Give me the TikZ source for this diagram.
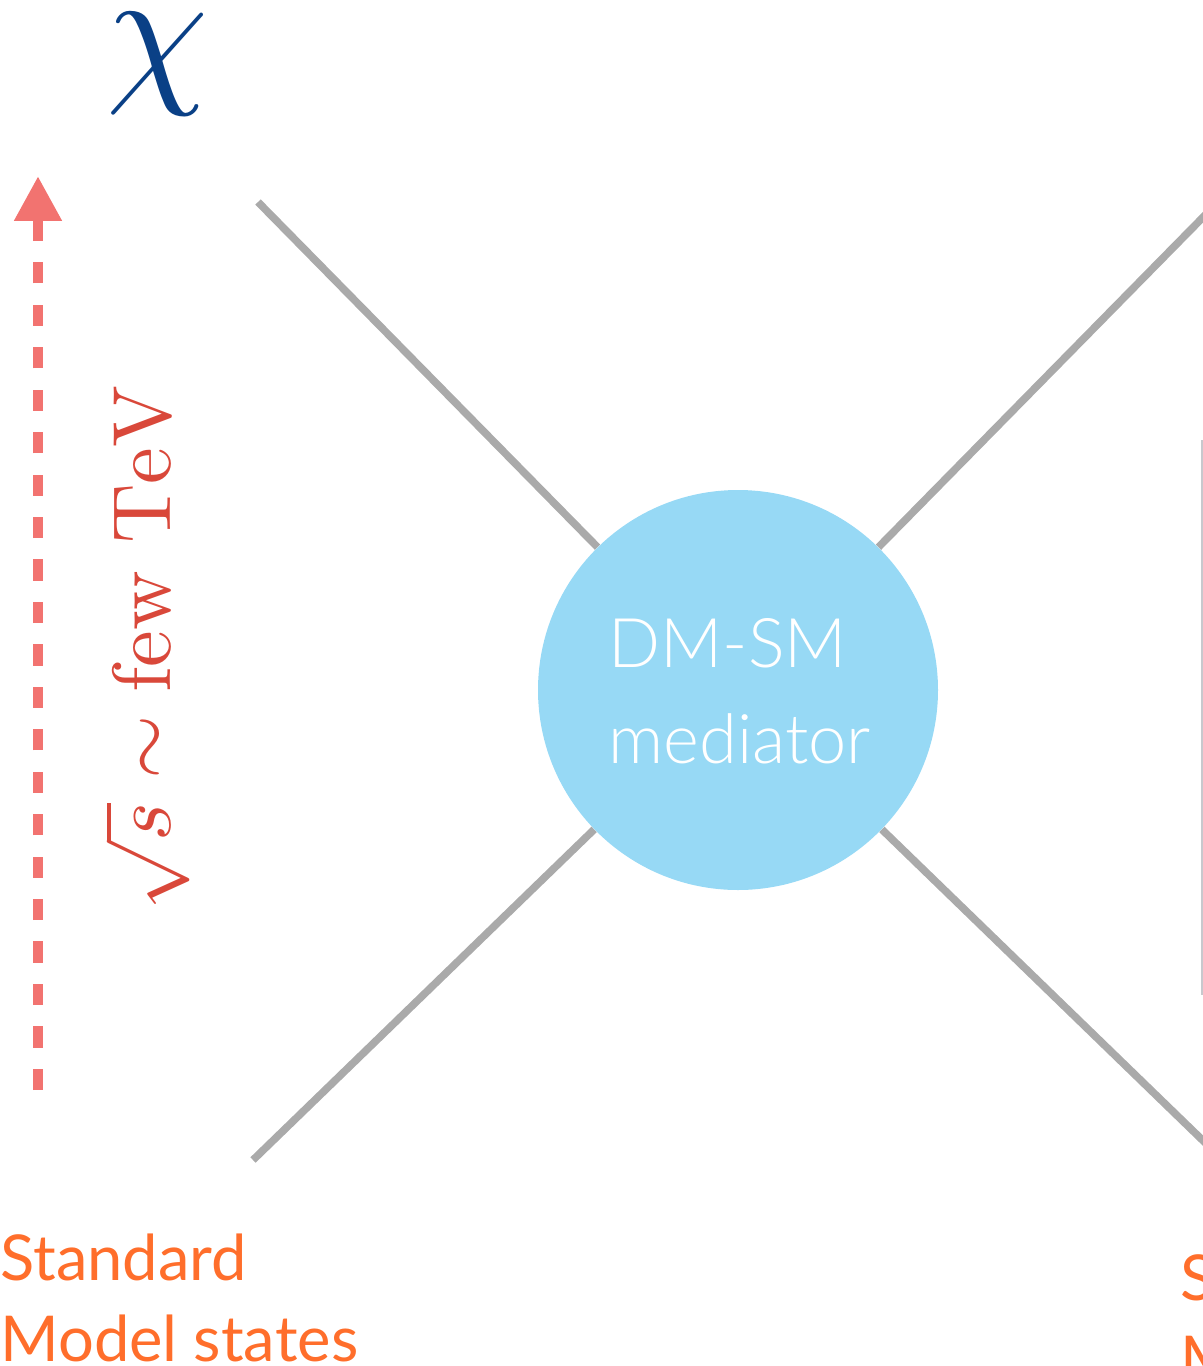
\documentclass[tikz,border=0pt]{standalone}
\usepackage{fontspec}
\newfontfamily\labelfont{Lato}
\newfontfamily\lightlabelfont{Lato Light}
\usetikzlibrary{arrows.meta}

\definecolor{legcol}{RGB}{170,170,170}
\definecolor{medcol}{RGB}{151,217,245}
\definecolor{chicol}{RGB}{10,64,134}
\definecolor{energycol}{RGB}{217,72,58}
\definecolor{arrowcol}{RGB}{242,115,112}
\definecolor{smcol}{RGB}{255,110,43}
\definecolor{edgecol}{RGB}{200,200,205}

\tikzset{
  leg/.style={draw=legcol, line width=4.3pt},
  mediatorball/.style={circle, fill=medcol, minimum size=400*0.02cm, inner sep=0pt},
  medtext/.style={text=white, inner sep=0pt, font=\lightlabelfont\fontsize{39}{46}\selectfont},
  smtext/.style={text=smcol, inner sep=0pt, font=\labelfont\fontsize{36}{44}\selectfont},
  energyarrow/.style={draw=arrowcol, line width=6.24pt, dash pattern=on 12.08pt off 12.08pt,
    -{Triangle[length=25.5pt,width=25.5pt]}},
}

\begin{document}
\begin{tikzpicture}[x=0.02cm, y=-0.02cm]
\useasboundingbox (0,0) rectangle (1203,1366);
\clip (0,0) rectangle (1203,1366);

% central mediator blob
\node[mediatorball] (med) at (738,690) {};

% external legs
\coordinate (ul) at (258,202);
\coordinate (ll) at (253,1160);
\coordinate (ur) at (1218,202);
\coordinate (lr) at (1223,1160);
\draw[leg] (ul) -- (med);
\draw[leg] (ll) -- (med);
\draw[leg] (ur) -- (med);
\draw[leg] (lr) -- (med);

% label inside the blob
\node[medtext, anchor=base west] (medA) at (608,667) {DM-SM};
\node[medtext, anchor=base west] (medB) at (608,763) {mediator};

% dark matter particle
\node[text=chicol, inner sep=0pt, scale=9.3, transform shape] (chi) at (158,64) {$\chi$};

% energy scale arrow
\coordinate (eBot) at (38,1090);
\coordinate (eTop) at (38,176);
\draw[energyarrow] (eBot) -- (eTop);
\node[text=energycol, rotate=90, scale=4.7, transform shape, inner sep=0pt] (energy) at (147,648)
  {$\sqrt{s}\sim\mathrm{few\ TeV}$};

% Standard Model labels
\node[smtext, anchor=base west] (smLa) at (0,1280) {Standard};
\node[smtext, anchor=base west] (smLb) at (0,1361) {Model states};
\node[smtext, anchor=base west] (smRa) at (1180,1300) {Standard};
\node[smtext, anchor=base west] (smRb) at (1180,1381) {Model states};

% thin edge on the right
\coordinate (edgeTop) at (1202,440);
\coordinate (edgeBot) at (1202,995);
\draw[edgecol, line width=0.8pt] (edgeTop) -- (edgeBot);
\end{tikzpicture}
\end{document}
